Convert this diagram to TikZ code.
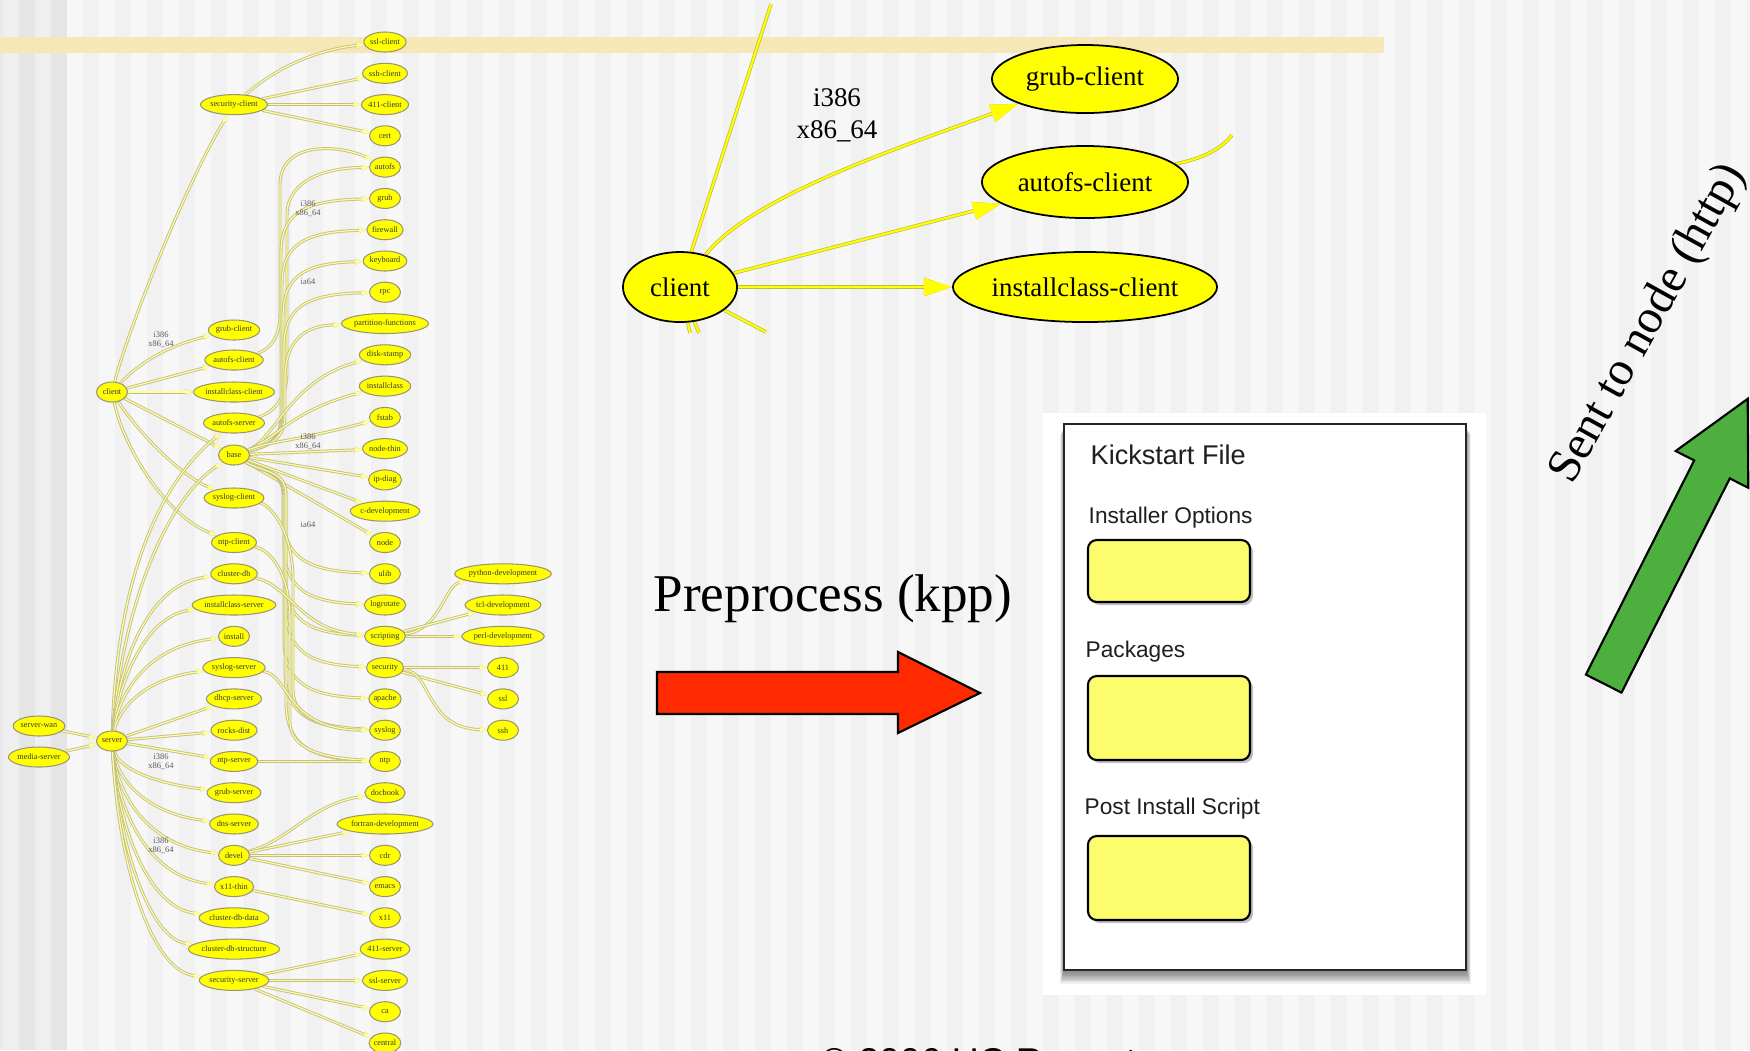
\documentclass[tikz,border=0pt]{standalone}
\usepackage{fontspec}
\setmainfont{Liberation Serif}
\newfontfamily\uisans{Liberation Sans}
\usetikzlibrary{shapes.geometric,arrows.meta}
\pgfdeclarelayer{paper}
\pgfdeclarelayer{links}
\pgfsetlayers{paper,links,main}

\definecolor{stripeA}{HTML}{F7F7F7}
\definecolor{stripeB}{HTML}{F1F1F1}
\definecolor{rimA}{HTML}{E5E5E5}
\definecolor{rimB}{HTML}{EFEFEF}
\definecolor{rimC}{HTML}{EAEAEA}
\definecolor{band}{HTML}{F6E7B6}
\definecolor{nodefill}{HTML}{FFFF00}
\definecolor{smallrim}{HTML}{9A9670}
\definecolor{smalllink}{HTML}{FFFF96}
\definecolor{smallcase}{HTML}{C2BE92}
\definecolor{bigyellow}{HTML}{FFFF00}
\definecolor{bigcase}{HTML}{BDBD40}
\definecolor{redarrow}{HTML}{FF2A00}
\definecolor{greenarrow}{HTML}{4CAF3E}
\definecolor{slotfill}{HTML}{FCFC6C}

\tikzset{
  sn/.style={ellipse, fill=nodefill, draw=smallrim, line width=0.3pt,
    inner xsep=0pt, inner ysep=0pt, minimum height=0.2cm, minimum width=0.31cm,
    text=black!78, font=\fontsize{2.35pt}{2.6pt}\selectfont},
  sedge/.style={draw=smalllink, line width=0.34pt,
    preaction={draw=smallcase, line width=0.85pt},
    -{Triangle[length=2.1pt,width=1.5pt]}},
  slbl/.style={align=center, inner sep=0pt, text=black!65,
    font=\fontsize{2.4pt}{2.6pt}\selectfont},
  bn/.style={ellipse, fill=nodefill, draw=black, line width=0.5pt, inner sep=0pt,
    font=\fontsize{7.65pt}{9pt}\selectfont},
  bedge/.style={draw=bigyellow, line width=0.6pt,
    preaction={draw=bigcase, line width=1.0pt}},
  barrow/.style={-{Triangle[length=8pt,width=5pt]}},
  slotbox/.style={fill=slotfill, draw=black, line width=0.6pt, rounded corners=2.5pt},
  kstext/.style={anchor=base west, inner sep=0pt, text=black!88},
  bigarrow/.style={draw=black, line width=0.6pt, line join=miter},
}

\begin{document}
\begin{tikzpicture}[x=0.01cm,y=-0.01cm]
\useasboundingbox (0,0) rectangle (1750,1050);

% ---------- striped paper and highlight band ----------
\begin{pgfonlayer}{paper}
  \fill[stripeA] (0,0) rectangle (1750,1050);
  \foreach \x in {83,115,...,1750} \fill[stripeB] (\x,0) rectangle ({\x+16},1050);
  \fill[rimC] (0,0) rectangle (3,1050);
  \fill[rimB] (3,0) rectangle (19,1050);
  \fill[rimA] (19,0) rectangle (35,1050);
  \fill[rimB] (35,0) rectangle (51,1050);
  \fill[rimA] (51,0) rectangle (67,1050);
  \fill[band] (0,37) rectangle (1384,53);
\end{pgfonlayer}

% ---------- overview graph: right column ----------
\node[sn] (sslclient)    at (385,42)    {ssl-client};
\node[sn] (sshclient)    at (385,73.3)  {ssh-client};
\node[sn] (fclient)      at (385,104.6) {411-client};
\node[sn] (cert)         at (385,135.8) {cert};
\node[sn] (autofs)       at (385,167.1) {autofs};
\node[sn] (grub)         at (385,198.4) {grub};
\node[sn] (firewall)     at (385,229.7) {firewall};
\node[sn] (keyboard)     at (385,261)   {keyboard};
\node[sn] (rpc)          at (385,292.2) {rpc};
\node[sn] (partfunc)     at (385,323.5) {partition-functions};
\node[sn] (diskstamp)    at (385,354.8) {disk-stamp};
\node[sn] (installclass) at (385,386.1) {installclass};
\node[sn] (fstab)        at (385,417.4) {fstab};
\node[sn] (nodethin)     at (385,448.6) {node-thin};
\node[sn] (ipdiag)       at (385,479.9) {ip-diag};
\node[sn] (cdev)         at (385,511.2) {c-development};
\node[sn] (rnode)        at (385,542.5) {node};
\node[sn] (ulib)         at (385,573.8) {ulib};
\node[sn] (logrotate)    at (385,605)   {logrotate};
\node[sn] (scripting)    at (385,636.3) {scripting};
\node[sn] (security)     at (385,667.6) {security};
\node[sn] (apache)       at (385,698.9) {apache};
\node[sn] (syslog)       at (385,730.2) {syslog};
\node[sn] (ntp)          at (385,761.4) {ntp};
\node[sn] (docbook)      at (385,792.7) {docbook};
\node[sn] (fortran)      at (385,824)   {fortran-development};
\node[sn] (cdr)          at (385,855.3) {cdr};
\node[sn] (emacs)        at (385,886.6) {emacs};
\node[sn] (xeleven)      at (385,917.8) {x11};
\node[sn] (fserver)      at (385,949.1) {411-server};
\node[sn] (sslserver)    at (385,980.4) {ssl-server};
\node[sn] (ca)           at (385,1011.7){ca};
\node[sn] (central)      at (385,1043)  {central};

% far right column
\node[sn] (pydev)   at (503,573.8) {python-development};
\node[sn] (tcldev)  at (503,605)   {tcl-development};
\node[sn] (perldev) at (503,636.3) {perl-development};
\node[sn] (ffour)   at (503,667.6) {411};
\node[sn] (ssl)     at (503,698.9) {ssl};
\node[sn] (ssh)     at (503,730.2) {ssh};

% middle column
\node[sn] (secclient)    at (234,104.6) {security-client};
\node[sn] (grubclient)   at (234,330)   {grub-client};
\node[sn] (autofsclient) at (234,360)   {autofs-client};
\node[sn] (icclient)     at (234,392)   {installclass-client};
\node[sn] (autofsserver) at (234,423)   {autofs-server};
\node[sn] (base)         at (234,455)   {base};
\node[sn] (syslogclient) at (234,498)   {syslog-client};
\node[sn] (ntpclient)    at (234,542.5) {ntp-client};
\node[sn] (clusterdb)    at (234,573.8) {cluster-db};
\node[sn] (icserver)     at (234,605)   {installclass-server};
\node[sn] (install)      at (234,636.3) {install};
\node[sn] (syslogserver) at (234,667.6) {syslog-server};
\node[sn] (dhcpserver)   at (234,698.9) {dhcp-server};
\node[sn] (rocksdist)    at (234,730.2) {rocks-dist};
\node[sn] (ntpserver)    at (234,761.4) {ntp-server};
\node[sn] (grubserver)   at (234,792.7) {grub-server};
\node[sn] (dnsserver)    at (234,824)   {dns-server};
\node[sn] (devel)        at (234,855.3) {devel};
\node[sn] (xthin)        at (234,886.6) {x11-thin};
\node[sn] (cdbdata)      at (234,917.8) {cluster-db-data};
\node[sn] (cdbstruct)    at (234,949.1) {cluster-db-structure};
\node[sn] (secserver)    at (234,980.4) {security-server};

% left column
\node[sn] (client)      at (112,392) {client};
\node[sn] (server)      at (112,741) {server};
\node[sn] (serverwan)   at (39,726)  {server-wan};
\node[sn] (mediaserver) at (39,757)  {media-server};

% edge labels
\node[slbl] (lab1) at (161,340) {i386\\x86\_64};
\node[slbl] (lab2) at (308,209) {i386\\x86\_64};
\node[slbl] (lab3) at (308,282) {ia64};
\node[slbl] (lab4) at (308,442) {i386\\x86\_64};
\node[slbl] (lab5) at (308,525) {ia64};
\node[slbl] (lab6) at (161,762) {i386\\x86\_64};
\node[slbl] (lab7) at (161,846) {i386\\x86\_64};

% ---------- magnified client view ----------
\node[bn, minimum width=1.14cm, minimum height=0.70cm] (bclient) at (680,287) {client};
\node[bn, minimum width=1.86cm, minimum height=0.68cm] (bgrub)   at (1085,79)  {grub-client};
\node[bn, minimum width=2.06cm, minimum height=0.72cm] (bautofs) at (1085,182) {autofs-client};
\node[bn, minimum width=2.60cm, minimum height=0.70cm] (bic)     at (1085,287) {installclass-client};
\node[align=center, inner sep=0pt, font=\fontsize{7.65pt}{9.1pt}\selectfont] (blabel) at (837,115) {i386\\x86\_64};
\coordinate (btop)   at (771,4);
\coordinate (bright) at (1232,135);
\coordinate (bs1)    at (690,333);
\coordinate (bs2)    at (699,333);
\coordinate (bs3)    at (766,332);

% ---------- connectors ----------
\begin{pgfonlayer}{links}
  % security-client
  \draw[sedge] (secclient) .. controls (262,80) and (300,52) .. (sslclient);
  \draw[sedge] (secclient) -- (sshclient);
  \draw[sedge] (secclient) -- (fclient);
  \draw[sedge] (secclient) -- (cert);
  % client
  \draw[sedge] (client) .. controls (128,330) and (185,185) .. (secclient);
  \draw[sedge] (client) .. controls (140,362) and (170,345) .. (grubclient);
  \draw[sedge] (client) -- (autofsclient);
  \draw[sedge] (client) -- (icclient);
  \draw[sedge] (client) -- (base);
  \draw[sedge] (client) .. controls (138,432) and (180,475) .. (syslogclient);
  \draw[sedge] (client) .. controls (124,448) and (165,515) .. (ntpclient);
  % autofs feeds
  \draw[sedge] (autofsclient) .. controls (262,352) and (280,345) .. (280,315)
     -- (280,185) .. controls (280,138) and (345,146) .. (autofs);
  \draw[sedge] (autofsserver) .. controls (266,415) and (287,405) .. (287,372)
     -- (287,215) .. controls (287,180) and (325,168) .. (autofs);
  % base, upward trunk
  \foreach \tg/\ty/\dx in {grub/198.4/-2, firewall/229.7/-1, keyboard/261/0, rpc/292.2/1, partfunc/323.5/2}
    \draw[sedge] (base) .. controls (268,446) and ({283+\dx},440) .. ({283+\dx},415)
       -- ({283+\dx},{\ty+55}) .. controls ({283+\dx},{\ty+15}) and ({305+\dx},{\ty+2}) .. (\tg);
  \foreach \tg/\ty in {diskstamp/354.8, installclass/386.1, fstab/417.4}
    \draw[sedge] (base) .. controls (275,440) and (290,{\ty+25}) .. (\tg);
  % base, direct
  \draw[sedge] (base) -- (nodethin);
  \draw[sedge] (base) -- (ipdiag);
  \draw[sedge] (base) -- (cdev);
  \draw[sedge] (base) -- (rnode);
  % base, downward trunk
  \foreach \tg/\ty/\dx in {ulib/573.8/-1, logrotate/605/0, scripting/636.3/1, security/667.6/2, apache/698.9/0, syslog/730.2/1, ntp/761.4/2}
    \draw[sedge] (base) .. controls (262,472) and ({284+\dx},470) .. ({284+\dx},495)
       -- ({284+\dx},{\ty-60}) .. controls ({284+\dx},{\ty-15}) and ({310+\dx},{\ty-3}) .. (\tg);
  % client-side services into shared packages
  \draw[sedge] (syslogclient) .. controls (270,505) and (293,530) .. (293,580)
     -- (293,690) .. controls (293,722) and (330,727) .. (syslog);
  \draw[sedge] (ntpclient) .. controls (270,550) and (290,572) .. (290,620)
     -- (290,722) .. controls (290,752) and (330,758) .. (ntp);
  \draw[sedge] (clusterdb) .. controls (290,585) and (300,630) .. (scripting);
  \draw[sedge] (syslogserver) .. controls (290,675) and (285,730) .. (syslog);
  \draw[sedge] (ntpserver) -- (ntp);
  % scripting and security
  \draw[sedge] (scripting) .. controls (440,630) and (445,585) .. (pydev);
  \draw[sedge] (scripting) -- (tcldev);
  \draw[sedge] (scripting) -- (perldev);
  \draw[sedge] (security) -- (ffour);
  \draw[sedge] (security) -- (ssl);
  \draw[sedge] (security) .. controls (432,672) and (425,728) .. (ssh);
  % server
  \draw[sedge] (serverwan) -- (server);
  \draw[sedge] (mediaserver) -- (server);
  \draw[sedge] (server) .. controls (116,600) and (150,490) .. (autofsserver);
  \draw[sedge] (server) .. controls (122,610) and (165,500) .. (base);
  \foreach \tg/\ty in {clusterdb/573.8, icserver/605, install/636.3, syslogserver/667.6}
    \draw[sedge] (server) .. controls (120,{(741+\ty)/2}) and (150,{\ty+10}) .. (\tg);
  \draw[sedge] (server) -- (dhcpserver);
  \draw[sedge] (server) -- (rocksdist);
  \draw[sedge] (server) -- (ntpserver);
  \foreach \tg/\ty in {grubserver/792.7, dnsserver/824, devel/855.3, xthin/886.6, cdbdata/917.8, cdbstruct/949.1, secserver/980.4}
    \draw[sedge] (server) .. controls (118,{(741+\ty)/2}) and (150,{\ty-10}) .. (\tg);
  % devel, x11-thin, security-server
  \draw[sedge] (devel) .. controls (290,840) and (310,805) .. (docbook);
  \draw[sedge] (devel) -- (fortran);
  \draw[sedge] (devel) -- (cdr);
  \draw[sedge] (devel) -- (emacs);
  \draw[sedge] (xthin) -- (xeleven);
  \draw[sedge] (secserver) -- (fserver);
  \draw[sedge] (secserver) -- (sslserver);
  \draw[sedge] (secserver) -- (ca);
  \draw[sedge] (secserver) -- (central);

  % magnified view
  \draw[bedge] (bclient) -- (btop);
  \draw[bedge, barrow] (bclient) .. controls (753,195) and (902,147) .. (bgrub);
  \draw[bedge, barrow] (bclient) -- (bautofs);
  \draw[bedge, barrow] (bclient) -- (bic);
  \draw[bedge] (bautofs) .. controls (1205,158) and (1222,148) .. (bright);
  \draw[bedge] (bclient) -- (bs1);
  \draw[bedge] (bclient) -- (bs2);
  \draw[bedge] (bclient) -- (bs3);
\end{pgfonlayer}

% ---------- preprocess step ----------
\node[kstext, text=black, font=\fontsize{15.1pt}{18pt}\selectfont] (preprocess) at (653,611) {Preprocess (kpp)};
\draw[bigarrow, fill=redarrow] (657,672) -- (898,672) -- (898,652) -- (980,693)
   -- (898,733) -- (898,714) -- (657,714) -- cycle;

% ---------- kickstart file sheet ----------
\fill[white] (1043,413) rectangle (1486,995);
\foreach \s in {1,2,...,9}
  \fill[black,opacity=0.06] ({1064-0.4*\s},{426+0.9*\s}) rectangle ({1466+0.5*\s},{972+1.3*\s});
\fill[white, draw=black!85, line width=0.45pt] (1064,424) rectangle (1466,970);
\node[kstext, font=\uisans\fontsize{7.7pt}{9pt}\selectfont] (kstitle) at (1090,464) {Kickstart File};
\node[kstext, font=\uisans\fontsize{6.45pt}{8pt}\selectfont] (ksopts) at (1088,523) {Installer Options};
\node[kstext, font=\uisans\fontsize{6.45pt}{8pt}\selectfont] (kspkgs) at (1085,657) {Packages};
\node[kstext, font=\uisans\fontsize{6.45pt}{8pt}\selectfont] (kspost) at (1084,814) {Post Install Script};
\foreach \ya/\yb in {540/602, 676/760, 836/920} {
  \fill[black, opacity=0.25, rounded corners=2.5pt] (1091,{\ya+3}) rectangle (1253,{\yb+3});
  \draw[slotbox] (1088,\ya) rectangle (1250,\yb);
}

% ---------- delivery step ----------
\draw[bigarrow, fill=greenarrow] (1585.9,674.6) -- (1694.2,460.4) -- (1675.7,451)
   -- (1747.7,398.8) -- (1748.3,487.8) -- (1729.8,478.4) -- (1621.5,692.6) -- cycle;
\node[rotate=61, inner sep=0pt, font=\fontsize{13.6pt}{16pt}\selectfont] (sent) at (1649,324) {Sent to node (http)};

% ---------- footer ----------
\begin{scope}
  \clip (0,0) rectangle (1750,1050);
  \node[kstext, text=black, font=\uisans\fontsize{10.6pt}{12pt}\selectfont] (footer) at (820,1074) {© 2006 UC Regents};
\end{scope}
\end{tikzpicture}
\end{document}
